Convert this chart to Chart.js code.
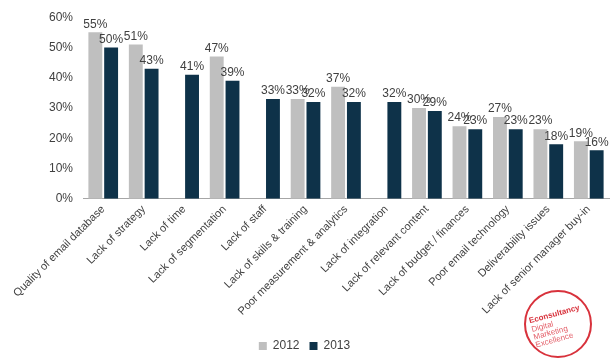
<!DOCTYPE html>
<html>
<head>
<meta charset="utf-8">
<script src="https://cdn.jsdelivr.net/npm/chart.js@4.4.1/dist/chart.umd.min.js"></script>
<style>
  html, body { margin: 0; padding: 0; background: #fff; }
  #wrap { width: 615px; height: 362px; }
</style>
</head>
<body>
<div id="wrap"><canvas id="chart" width="615" height="362"></canvas></div>
<script>
const categories = [
  "Quality of email database", "Lack of strategy", "Lack of time", "Lack of segmentation",
  "Lack of staff", "Lack of skills & training", "Poor measurement & analytics",
  "Lack of integration", "Lack of relevant content", "Lack of budget / finances",
  "Poor email technology", "Deliverability issues", "Lack of senior manager buy-in"
];
const values2012 = [55, 51, null, 47, null, 33, 37, null, 30, 24, 27, 23, 19];
const values2013 = [50, 43, 41, 39, 33, 32, 32, 32, 29, 23, 23, 18, 16];
const yTicks = [0, 10, 20, 30, 40, 50, 60];

const COLORS = { y2012: "#BFBFBF", y2013: "#0E3249", text: "#404040", axis: "#A6A6A6", logo: "#D8323C" };
const FONT = "'Liberation Sans', Arial, sans-serif";

// value labels above every bar
const valueLabels = {
  id: "valueLabels",
  afterDatasetsDraw(chart) {
    const ctx = chart.ctx;
    ctx.save();
    ctx.font = "12px " + FONT;
    ctx.fillStyle = COLORS.text;
    ctx.textAlign = "center";
    ctx.textBaseline = "bottom";
    chart.data.datasets.forEach((ds, i) => {
      chart.getDatasetMeta(i).data.forEach((bar, j) => {
        const v = ds.data[j];
        if (v === null || v === undefined) return;
        ctx.fillText(v + "%", bar.x, bar.y - 2);
      });
    });
    ctx.restore();
  },
};

// Econsultancy stamp, bottom right
const logo = {
  id: "logo",
  afterDraw(chart) {
    const ctx = chart.ctx;
    ctx.save();
    ctx.translate(558, 324);
    ctx.strokeStyle = COLORS.logo;
    ctx.lineWidth = 2;
    ctx.beginPath();
    ctx.arc(0, 0, 33, 0, Math.PI * 2);
    ctx.stroke();
    ctx.rotate(-15 * Math.PI / 180);
    ctx.fillStyle = COLORS.logo;
    ctx.textAlign = "left";
    ctx.textBaseline = "alphabetic";
    ctx.font = "bold 8px " + FONT;
    ctx.fillText("Econsultancy", -27, -8);
    ctx.font = "8px " + FONT;
    ctx.fillStyle = "#E4606A";
    ctx.fillText("Digital", -27, 1);
    ctx.fillText("Marketing", -27, 9);
    ctx.fillText("Excellence", -27, 17);
    ctx.restore();
  },
};

new Chart(document.getElementById("chart"), {
  type: "bar",
  data: {
    labels: categories,
    datasets: [
      { label: "2012", data: values2012, backgroundColor: COLORS.y2012 },
      { label: "2013", data: values2013, backgroundColor: COLORS.y2013 },
    ],
  },
  options: {
    responsive: false,
    animation: false,
    layout: { padding: { left: 0, right: 6, top: 4, bottom: 0 } },
    datasets: { bar: { categoryPercentage: 0.78, barPercentage: 0.88 } },
    plugins: {
      legend: {
        position: "bottom",
        labels: { color: COLORS.text, font: { family: FONT, size: 12 }, boxWidth: 8, boxHeight: 8, padding: 10 },
      },
      tooltip: { enabled: false },
    },
    scales: {
      x: {
        afterFit: (axis) => { axis.height += 8; },
        grid: { display: false, drawTicks: false },
        border: { color: COLORS.axis },
        ticks: { color: COLORS.text, font: { family: FONT, size: 11 }, minRotation: 45, maxRotation: 45, autoSkip: false, padding: 4 },
      },
      y: {
        min: 0,
        max: 60,
        afterBuildTicks: (axis) => { axis.ticks = yTicks.map((v) => ({ value: v })); },
        afterFit: (axis) => { axis.width = 83; },
        grid: { display: false, drawTicks: false },
        border: { display: false },
        ticks: { color: COLORS.text, font: { family: FONT, size: 12 }, padding: 10, callback: (v) => v + "%" },
      },
    },
  },
  plugins: [valueLabels, logo],
});
</script>
</body>
</html>
